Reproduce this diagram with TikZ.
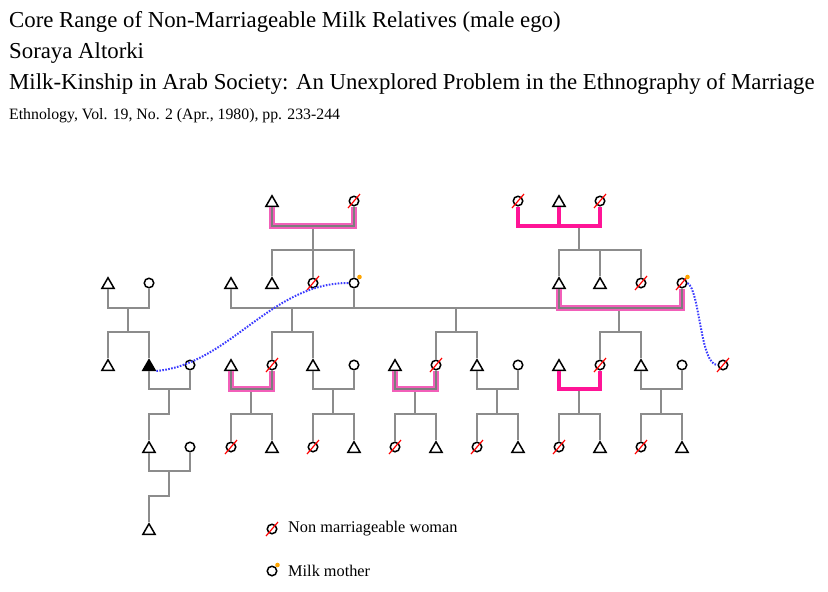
\documentclass[tikz,border=0pt]{standalone}
\usepackage{fontspec}
\setmainfont{Liberation Serif}
\usetikzlibrary{shapes.geometric}
\definecolor{lg}{RGB}{140,140,140}
\definecolor{dg}{RGB}{125,125,125}
\definecolor{pkf}{RGB}{255,20,150}
\definecolor{pkh}{RGB}{242,95,185}
\definecolor{bl}{RGB}{60,60,255}
\definecolor{og}{RGB}{255,165,0}
\newcommand\Tri[3]{\node[tri] (#1) at (#2,#3) {};}
\newcommand\Cir[3]{\node[circ] (#1) at (#2,#3) {};}
\newcommand\Nmw[3]{\node[circ] (#1) at (#2,#3) {};\draw[slash] (#1.center) +(-6,7) -- +(6,-7);}
\newcommand\Mlk[1]{\fill[og] (#1.center) +(5.5,-6) circle (2.3);}
\begin{document}
\begin{tikzpicture}[x=1pt,y=-1pt,
 sym/.style={draw=black, line width=1.5pt, fill=white, inner sep=0pt},
 tri/.style={sym, regular polygon, regular polygon sides=3, minimum size=14pt, yshift=-1.75pt},
 egotri/.style={tri, fill=black},
 circ/.style={sym, circle, minimum size=9.5pt},
 ln/.style={draw=lg, line width=2pt},
 dbl/.style={draw=dg, line width=2.5pt, preaction={draw=pkh, line width=6pt}},
 pk/.style={draw=pkf, line width=4.5pt},
 slash/.style={draw=red, line width=1.2pt},
 milkline/.style={draw=bl, line width=2pt, dash pattern=on 1.6pt off 1.4pt},
 ttl/.style={anchor=base west, inner sep=0pt, font=\fontsize{22.8}{26}\selectfont},
 lgd/.style={anchor=west, inner sep=0pt, font=\fontsize{16.3}{19}\selectfont}
]
\useasboundingbox (0,0) rectangle (828,592);
% titles
\node[ttl] (t1) at (9,27) {Core Range of Non-Marriageable Milk Relatives (male ego)};
\node[ttl] (t2) at (9,58) {Soraya Altorki};
\node[ttl] (t3) at (9,89) {Milk-Kinship in Arab Society: An Unexplored Problem in the Ethnography of Marriage};
\node[ttl, font=\fontsize{15.8}{18}\selectfont] (t4) at (9,119) {Ethnology, Vol. 19, No. 2 (Apr., 1980), pp. 233-244};

% row 1
\Tri{A1}{272}{201} \Nmw{A2}{354}{201}
\Nmw{B1}{518}{201} \Tri{B2}{559}{201} \Nmw{B3}{600}{201}
% row 2
\Tri{L1}{108}{283} \Cir{L2}{149}{283}
\Tri{C1}{231}{283} \Tri{C2}{272}{283} \Nmw{C3}{313}{283} \Cir{C4}{354}{283}
\Tri{D1}{559}{283} \Tri{D2}{600}{283} \Nmw{D3}{641}{283} \Nmw{D4}{682}{283}
% row 3
\Tri{E1}{108}{365} \node[egotri] (ego) at (149,365) {}; \Cir{E3}{190}{365}
\Tri{F1}{231}{365} \Nmw{F2}{272}{365} \Tri{F3}{313}{365} \Cir{F4}{354}{365}
\Tri{G1}{395}{365} \Nmw{G2}{436}{365} \Tri{G3}{477}{365} \Cir{G4}{518}{365}
\Tri{H1}{559}{365} \Nmw{H2}{600}{365} \Tri{H3}{641}{365} \Cir{H4}{682}{365} \Nmw{H5}{723}{365}
% row 4
\Tri{K1}{149}{447} \Cir{K2}{190}{447}
\Nmw{M1}{231}{447} \Tri{M2}{272}{447} \Nmw{M3}{313}{447} \Tri{M4}{354}{447}
\Nmw{N1}{395}{447} \Tri{N2}{436}{447} \Nmw{N3}{477}{447} \Tri{N4}{518}{447}
\Nmw{P1}{559}{447} \Tri{P2}{600}{447} \Nmw{P3}{641}{447} \Tri{P4}{682}{447}
% row 5
\Tri{Q}{149}{529}

% top-left family
\draw[ln] (313,226) -- (313,250);
\draw[ln] (C2.north) -- (C2.north |- 0,250) -- (C4.north |- 0,250) -- (C4.north);
\draw[ln] (C3.north) -- (C3.north |- 0,250);
\draw[dbl] (A1.south) -- (A1.south |- 0,226) -- (A2.south |- 0,226) -- (A2.south);
% top-right family
\draw[ln] (579,226) -- (579,250);
\draw[ln] (D1.north) -- (D1.north |- 0,250) -- (D3.north |- 0,250) -- (D3.north);
\draw[ln] (D2.north) -- (D2.north |- 0,250);
\draw[pk] (B1.south) -- (B1.south |- 0,226) -- (B3.south |- 0,226) -- (B3.south);
\draw[pk] (B2.south) -- (B2.south |- 0,226);
% far left
\draw[ln] (L1.south) -- (L1.south |- 0,308) -- (L2.south |- 0,308) -- (L2.south);
\draw[ln] (128,308) -- (128,332);
\draw[ln] (E1.north) -- (E1.north |- 0,332) -- (ego.north |- 0,332) -- (ego.north);
\draw[ln] (ego.south) -- (ego.south |- 0,389) -- (E3.south |- 0,389) -- (E3.south);
\draw[ln] (169,389) -- (169,414) -- (K1.north |- 0,414) -- (K1.north);
\draw[ln] (K1.south) -- (K1.south |- 0,471) -- (K2.south |- 0,471) -- (K2.south);
\draw[ln] (169,471) -- (169,496) -- (Q.north |- 0,496) -- (Q.north);
% long line of generation 2
\draw[ln] (C1.south) -- (C1.south |- 0,308) -- (D1.south |- 0,308);
\draw[ln] (C4.south) -- (C4.south |- 0,308);
\draw[ln] (292,308) -- (292,332);
\draw[ln] (F2.north) -- (F2.north |- 0,332) -- (F3.north |- 0,332) -- (F3.north);
\draw[ln] (456,308) -- (456,332);
\draw[ln] (G2.north) -- (G2.north |- 0,332) -- (G3.north |- 0,332) -- (G3.north);
\draw[ln] (619,308) -- (619,332);
\draw[ln] (H2.north) -- (H2.north |- 0,332) -- (H3.north |- 0,332) -- (H3.north);
\draw[dbl] (D1.south) -- (D1.south |- 0,308) -- (D4.south |- 0,308) -- (D4.south);
% generation 3 marriages
\draw[ln] (251,389) -- (251,414);
\draw[ln] (M1.north) -- (M1.north |- 0,414) -- (M2.north |- 0,414) -- (M2.north);
\draw[dbl] (F1.south) -- (F1.south |- 0,389) -- (F2.south |- 0,389) -- (F2.south);
\draw[ln] (F3.south) -- (F3.south |- 0,389) -- (F4.south |- 0,389) -- (F4.south);
\draw[ln] (333,389) -- (333,414);
\draw[ln] (M3.north) -- (M3.north |- 0,414) -- (M4.north |- 0,414) -- (M4.north);
\draw[ln] (415,389) -- (415,414);
\draw[ln] (N1.north) -- (N1.north |- 0,414) -- (N2.north |- 0,414) -- (N2.north);
\draw[dbl] (G1.south) -- (G1.south |- 0,389) -- (G2.south |- 0,389) -- (G2.south);
\draw[ln] (G3.south) -- (G3.south |- 0,389) -- (G4.south |- 0,389) -- (G4.south);
\draw[ln] (497,389) -- (497,414);
\draw[ln] (N3.north) -- (N3.north |- 0,414) -- (N4.north |- 0,414) -- (N4.north);
\draw[ln] (579,389) -- (579,414);
\draw[ln] (P1.north) -- (P1.north |- 0,414) -- (P2.north |- 0,414) -- (P2.north);
\draw[pk] (H1.south) -- (H1.south |- 0,389) -- (H2.south |- 0,389) -- (H2.south);
\draw[ln] (H3.south) -- (H3.south |- 0,389) -- (H4.south |- 0,389) -- (H4.south);
\draw[ln] (661,389) -- (661,414);
\draw[ln] (P3.north) -- (P3.north |- 0,414) -- (P4.north |- 0,414) -- (P4.north);

% milk links
\draw[milkline] (ego.corner 3) .. controls (230,364) and (270,283) .. (C4.west);
\draw[milkline] (D4.east) .. controls (700,290) and (700,365) .. (H5.west);
\Mlk{C4} \Mlk{D4}

% legend
\Nmw{LG1}{272}{529}
\node[lgd] (lt1) at (288,529) {Non marriageable woman};
\Cir{LG2}{272}{571} \Mlk{LG2}
\node[lgd] (lt2) at (288,571) {Milk mother};
\end{tikzpicture}
\end{document}
